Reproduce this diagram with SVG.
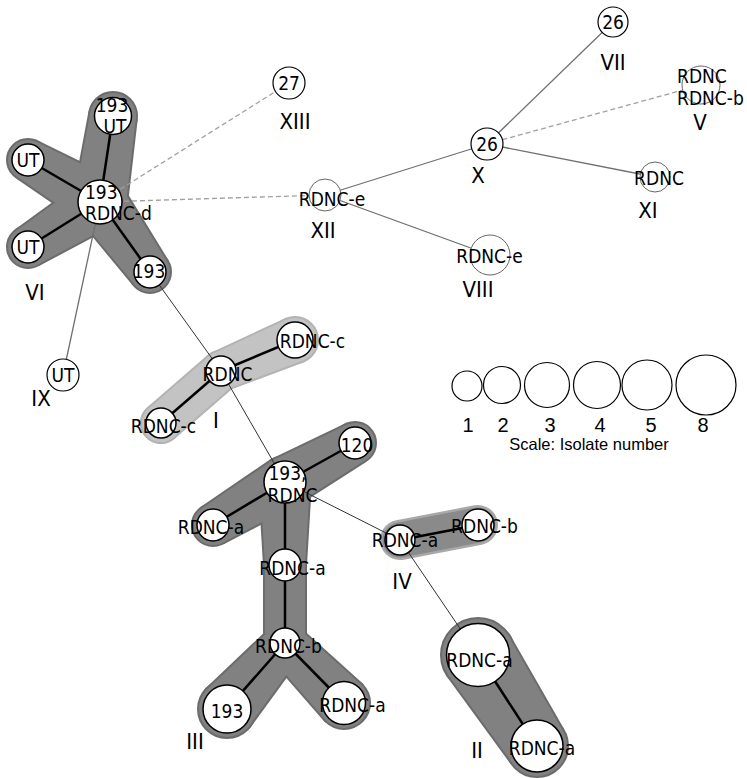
<svg xmlns="http://www.w3.org/2000/svg" width="747" height="778" viewBox="0 0 747 778">
<style>
.bg{fill:#ffffff}
.ho polygon,.ho circle{stroke-width:4;stroke-linejoin:round}
.ho line,.hf line{stroke-linecap:round}
.dark.ho{fill:#6c6c6c;stroke:#6c6c6c}
.dark.hf{fill:#818181}
.dark.hf line{stroke:#818181}
.light.ho{fill:#b3b3b3;stroke:#b3b3b3}
.light.hf{fill:#c3c3c3}
.light.hf line{stroke:#c3c3c3}
.mid.ho{fill:#a8a8a8;stroke:#a8a8a8}
.mid.hf line{stroke:#8a8a8a}
.thin{stroke:#333333;stroke-width:1;fill:none}
.gray{stroke:#707070;stroke-width:1.3;fill:none}
.dash{stroke:#a0a0a0;stroke-width:1.3;stroke-dasharray:5 3;fill:none}
.bold{stroke:#000000;stroke-width:2.5;fill:none;stroke-linecap:round}
.n{fill:#ffffff;stroke:#000000;stroke-width:1.5}
.ng{fill:#ffffff;stroke:#666666;stroke-width:1}
.s{fill:#ffffff;stroke:#000000;stroke-width:1.2}
text{font-family:"DejaVu Sans Condensed","DejaVu Sans",sans-serif;font-stretch:condensed;fill:#000000}
.t{font-size:19px;text-anchor:middle}
.ts{font-size:19px;text-anchor:start}
.lab{font-size:22px;text-anchor:middle}
.sc{font-family:"Liberation Sans",Arial,sans-serif;font-stretch:normal;text-anchor:middle}
</style>
<rect class="bg" x="0" y="0" width="747" height="778"/>

<g id="hulls">
  <g id="hull-VI">
    <g class="dark ho">
      <circle cx="100" cy="202" r="26"/><circle cx="113" cy="116" r="23"/><circle cx="28" cy="160" r="20"/><circle cx="28" cy="247" r="20"/><circle cx="150" cy="272" r="20"/>
      <polygon points="125.7,205.9 135.7,119.4 90.3,112.6 74.3,198.1"/>
      <polygon points="113.1,179.5 38.1,142.7 17.9,177.3 86.9,224.5"/>
      <polygon points="113.8,224 38.6,264 17.4,230 86.2,180"/>
      <polygon points="121.2,186.9 166.3,260.4 133.7,283.6 78.8,217.1"/>
    </g>
    <g class="dark hf">
      <circle cx="100" cy="202" r="26"/><circle cx="113" cy="116" r="23"/><circle cx="28" cy="160" r="20"/><circle cx="28" cy="247" r="20"/><circle cx="150" cy="272" r="20"/>
      <polygon points="125.7,205.9 135.7,119.4 90.3,112.6 74.3,198.1"/>
      <polygon points="113.1,179.5 38.1,142.7 17.9,177.3 86.9,224.5"/>
      <polygon points="113.8,224 38.6,264 17.4,230 86.2,180"/>
      <polygon points="121.2,186.9 166.3,260.4 133.7,283.6 78.8,217.1"/>
    </g>
  </g>
  <g id="hull-I">
    <g class="light ho">
      <circle cx="221" cy="371" r="19"/><circle cx="295" cy="340" r="22"/><circle cx="161" cy="423" r="19"/>
      <polygon points="228.3,388.5 303.5,360.3 286.5,319.7 213.7,353.5"/>
      <line x1="221" y1="371" x2="161" y2="423" stroke-width="42"/>
    </g>
    <g class="light hf">
      <circle cx="221" cy="371" r="19"/><circle cx="295" cy="340" r="22"/><circle cx="161" cy="423" r="19"/>
      <polygon points="228.3,388.5 303.5,360.3 286.5,319.7 213.7,353.5"/>
      <line x1="221" y1="371" x2="161" y2="423" stroke-width="38"/>
    </g>
  </g>
  <g id="hull-III">
    <g class="dark ho">
      <circle cx="285" cy="482" r="25"/><circle cx="355" cy="443" r="20"/><circle cx="213" cy="525" r="20"/><circle cx="285" cy="565" r="20"/><circle cx="285" cy="643" r="20"/><circle cx="227" cy="709" r="28"/><circle cx="344" cy="703" r="25"/>
      <polygon points="297.2,503.8 364.7,460.5 345.3,425.5 272.8,460.2"/>
      <polygon points="297.8,503.5 223.3,542.2 202.7,507.8 272.2,460.5"/>
      <polygon points="260,482 265,565 305,565 310,482"/>
      <line x1="285" y1="565" x2="285" y2="643" stroke-width="44"/>
      <polygon points="299.9,656.3 247.9,727.6 206.1,690.4 270.1,629.7"/>
      <polygon points="299.4,629.1 362,685.6 326,720.4 270.6,656.9"/>
    </g>
    <g class="dark hf">
      <circle cx="285" cy="482" r="25"/><circle cx="355" cy="443" r="20"/><circle cx="213" cy="525" r="20"/><circle cx="285" cy="565" r="20"/><circle cx="285" cy="643" r="20"/><circle cx="227" cy="709" r="28"/><circle cx="344" cy="703" r="25"/>
      <polygon points="297.2,503.8 364.7,460.5 345.3,425.5 272.8,460.2"/>
      <polygon points="297.8,503.5 223.3,542.2 202.7,507.8 272.2,460.5"/>
      <polygon points="260,482 265,565 305,565 310,482"/>
      <line x1="285" y1="565" x2="285" y2="643" stroke-width="40"/>
      <polygon points="299.9,656.3 247.9,727.6 206.1,690.4 270.1,629.7"/>
      <polygon points="299.4,629.1 362,685.6 326,720.4 270.6,656.9"/>
    </g>
  </g>
  <g id="hull-IV">
    <g class="mid ho"><line x1="400" y1="540" x2="478" y2="525" stroke-width="40"/></g>
    <g class="mid hf"><line x1="400" y1="540" x2="478" y2="525" stroke-width="35"/></g>
  </g>
  <g id="hull-II">
    <g class="dark ho">
      <circle cx="478" cy="655" r="36"/><circle cx="537" cy="746" r="30"/>
      <polygon points="508.2,635.4 562.2,729.7 511.8,762.3 447.8,674.6"/>
    </g>
    <g class="dark hf">
      <circle cx="478" cy="655" r="36"/><circle cx="537" cy="746" r="30"/>
      <polygon points="508.2,635.4 562.2,729.7 511.8,762.3 447.8,674.6"/>
    </g>
  </g>
</g>

<g id="connectors">
  <line class="thin" x1="150" y1="272" x2="221" y2="371"/>
  <line class="thin" x1="221" y1="371" x2="285" y2="482"/>
  <line class="thin" x1="285" y1="482" x2="400" y2="540"/>
  <line class="thin" x1="400" y1="540" x2="478" y2="655"/>
  <line class="gray" x1="100" y1="202" x2="63" y2="375"/>
  <line class="gray" x1="325" y1="195" x2="487" y2="144"/>
  <line class="gray" x1="325" y1="195" x2="490" y2="255"/>
  <line class="gray" x1="487" y1="144" x2="613" y2="22"/>
  <line class="gray" x1="487" y1="144" x2="655" y2="177"/>
  <line class="dash" x1="100" y1="202" x2="289" y2="83"/>
  <line class="dash" x1="100" y1="202" x2="325" y2="195"/>
  <line class="dash" x1="487" y1="144" x2="701" y2="85"/>
  <line class="bold" x1="100" y1="202" x2="113" y2="116"/>
  <line class="bold" x1="100" y1="202" x2="28" y2="160"/>
  <line class="bold" x1="100" y1="202" x2="28" y2="247"/>
  <line class="bold" x1="100" y1="202" x2="150" y2="272"/>
  <line class="bold" x1="221" y1="371" x2="295" y2="340"/>
  <line class="bold" x1="221" y1="371" x2="161" y2="423"/>
  <line class="bold" x1="285" y1="482" x2="355" y2="443"/>
  <line class="bold" x1="285" y1="482" x2="213" y2="525"/>
  <line class="bold" x1="285" y1="482" x2="285" y2="565"/>
  <line class="bold" x1="285" y1="565" x2="285" y2="643"/>
  <line class="bold" x1="285" y1="643" x2="227" y2="709"/>
  <line class="bold" x1="285" y1="643" x2="344" y2="703"/>
  <line class="bold" x1="400" y1="540" x2="478" y2="525"/>
  <line class="bold" x1="478" y1="655" x2="537" y2="746"/>
</g>

<g id="node-VI-193UT"><circle class="n" cx="113" cy="116" r="18.5"/><text class="t" x="112" y="112" font-size="17">193</text><text class="t" x="115" y="133" font-size="17">UT</text></g>
<g id="node-VI-UT1"><circle class="n" cx="28" cy="160" r="16"/><text class="t" x="28" y="167">UT</text></g>
<g id="node-VI-193RDNCd"><circle class="n" cx="100" cy="202" r="22"/><text class="ts" x="85" y="199">193</text><text class="ts" x="85" y="220">RDNC-d</text></g>
<g id="node-VI-UT2"><circle class="n" cx="28" cy="247" r="16"/><text class="t" x="28" y="254">UT</text></g>
<g id="node-VI-193"><circle class="n" cx="150" cy="272" r="16"/><text class="t" x="149" y="278">193</text></g>
<g id="node-IX"><circle class="s" cx="63" cy="375" r="16"/><text class="t" x="63" y="382">UT</text></g>
<g id="node-XIII"><circle class="s" cx="289" cy="83" r="16"/><text class="t" x="289" y="90">27</text></g>
<g id="node-VII"><circle class="s" cx="613" cy="22" r="15"/><text class="t" x="613" y="29">26</text></g>
<g id="node-X"><circle class="s" cx="487" cy="144" r="16"/><text class="t" x="487" y="151">26</text></g>
<g id="node-V"><circle class="ng" cx="701" cy="85" r="19"/><text class="ts" x="677" y="83">RDNC</text><text class="ts" x="677" y="105">RDNC-b</text></g>
<g id="node-XI"><circle class="ng" cx="655" cy="177" r="15"/><text class="t" x="659" y="185">RDNC</text></g>
<g id="node-VIII"><circle class="ng" cx="490" cy="255" r="20"/><text class="t" x="489.5" y="263">RDNC-e</text></g>
<g id="node-XII"><circle class="ng" cx="325" cy="195" r="16"/><text class="t" x="332" y="206">RDNC-e</text></g>
<g id="node-I-RDNCc1"><circle class="n" cx="295" cy="340" r="18"/><text class="t" x="312.5" y="348">RDNC-c</text></g>
<g id="node-I-RDNC"><circle class="n" cx="221" cy="371" r="15"/><text class="t" x="227.5" y="381">RDNC</text></g>
<g id="node-I-RDNCc2"><circle class="n" cx="161" cy="423" r="15"/><text class="t" x="163.5" y="433">RDNC-c</text></g>
<g id="node-III-120"><circle class="n" cx="355" cy="443" r="16"/><text class="t" x="357" y="452">120</text></g>
<g id="node-III-193RDNC"><circle class="n" cx="285" cy="482" r="21"/><text class="t" x="287.5" y="480">193,</text><text class="t" x="292.5" y="502">RDNC</text></g>
<g id="node-III-RDNCa1"><circle class="n" cx="213" cy="525" r="16"/><text class="t" x="211" y="534">RDNC-a</text></g>
<g id="node-III-RDNCa2"><circle class="n" cx="285" cy="565" r="16"/><text class="t" x="292.5" y="575">RDNC-a</text></g>
<g id="node-III-RDNCb"><circle class="n" cx="285" cy="643" r="15"/><text class="t" x="288.5" y="653">RDNC-b</text></g>
<g id="node-III-193"><circle class="n" cx="227" cy="709" r="24"/><text class="t" x="227" y="718">193</text></g>
<g id="node-III-RDNCa3"><circle class="n" cx="344" cy="703" r="21.5"/><text class="t" x="352.5" y="712">RDNC-a</text></g>
<g id="node-IV-RDNCa"><circle class="n" cx="400" cy="540" r="15"/><text class="t" x="405" y="547">RDNC-a</text></g>
<g id="node-IV-RDNCb"><circle class="n" cx="478" cy="525" r="16"/><text class="t" x="484.5" y="533">RDNC-b</text></g>
<g id="node-II-RDNCa1"><circle class="n" cx="478" cy="655" r="31.5"/><text class="t" x="479.5" y="667">RDNC-a</text></g>
<g id="node-II-RDNCa2"><circle class="n" cx="537" cy="746" r="26"/><text class="t" x="542" y="755">RDNC-a</text></g>

<g id="labels">
  <text class="lab" x="35" y="300">VI</text>
  <text class="lab" x="41" y="406">IX</text>
  <text class="lab" x="295" y="129">XIII</text>
  <text class="lab" x="323" y="238">XII</text>
  <text class="lab" x="478" y="183">X</text>
  <text class="lab" x="613" y="70">VII</text>
  <text class="lab" x="700" y="130">V</text>
  <text class="lab" x="648" y="218">XI</text>
  <text class="lab" x="478" y="297">VIII</text>
  <text class="lab" x="216" y="428">I</text>
  <text class="lab" x="195" y="749">III</text>
  <text class="lab" x="402" y="589">IV</text>
  <text class="lab" x="477" y="758">II</text>
</g>

<g id="scale">
  <circle class="s" cx="467" cy="386" r="15"/>
  <circle class="s" cx="502" cy="385" r="18.5"/>
  <circle class="s" cx="547" cy="385" r="22.5"/>
  <circle class="s" cx="597" cy="385" r="23.5"/>
  <circle class="s" cx="647" cy="385" r="25"/>
  <circle class="s" cx="706" cy="385" r="30"/>
  <text class="sc" font-size="20" x="468" y="432">1</text>
  <text class="sc" font-size="20" x="503" y="432">2</text>
  <text class="sc" font-size="20" x="550" y="432">3</text>
  <text class="sc" font-size="20" x="600" y="432">4</text>
  <text class="sc" font-size="20" x="651" y="432">5</text>
  <text class="sc" font-size="20" x="703" y="432">8</text>
  <text class="sc" font-size="16.5" x="589" y="450">Scale: Isolate number</text>
</g>
</svg>
